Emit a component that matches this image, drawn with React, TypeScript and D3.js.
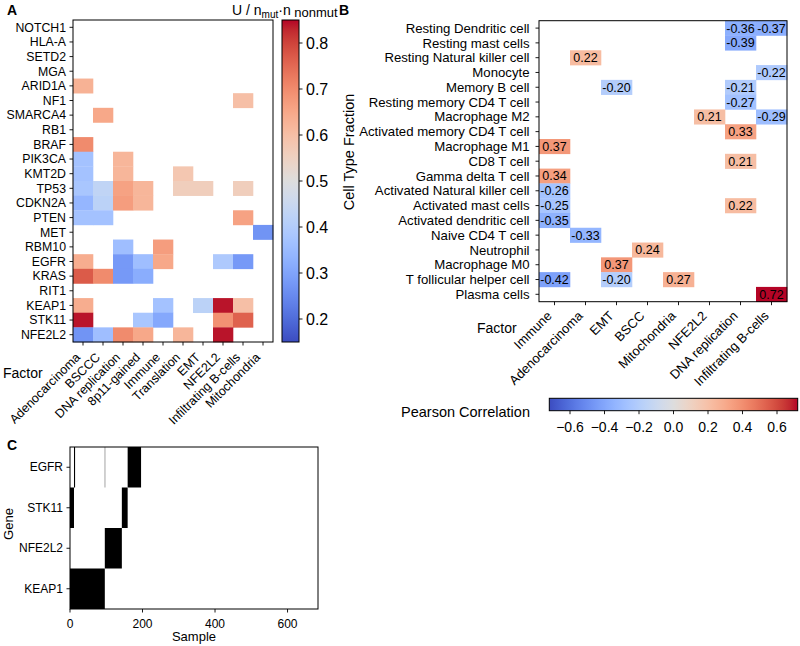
import React from "react";
import * as d3 from "d3";

// ---------------- Data ----------------
const genesA = ["NOTCH1","HLA-A","SETD2","MGA","ARID1A","NF1","SMARCA4","RB1","BRAF","PIK3CA","KMT2D","TP53","CDKN2A","PTEN","MET","RBM10","EGFR","KRAS","RIT1","KEAP1","STK11","NFE2L2"];
const factorsA = ["Adenocarcinoma","BSCCC","DNA replication","8p11-gained","Immune","Translation","EMT","NFE2L2","Infiltrating B-cells","Mitochondria"];
const cellsA: [string, string, number][] = [
  ["ARID1A","Adenocarcinoma",0.63],
  ["NF1","Infiltrating B-cells",0.60],
  ["SMARCA4","BSCCC",0.65],
  ["BRAF","Adenocarcinoma",0.70],
  ["PIK3CA","Adenocarcinoma",0.37],
  ["PIK3CA","DNA replication",0.62],
  ["KMT2D","Adenocarcinoma",0.37],
  ["KMT2D","DNA replication",0.62],
  ["KMT2D","Translation",0.58],
  ["TP53","Adenocarcinoma",0.38],
  ["TP53","BSCCC",0.43],
  ["TP53","DNA replication",0.66],
  ["TP53","8p11-gained",0.62],
  ["TP53","Translation",0.56],
  ["TP53","EMT",0.56],
  ["TP53","Infiltrating B-cells",0.56],
  ["CDKN2A","Adenocarcinoma",0.34],
  ["CDKN2A","BSCCC",0.42],
  ["CDKN2A","DNA replication",0.67],
  ["CDKN2A","8p11-gained",0.62],
  ["PTEN","Adenocarcinoma",0.37],
  ["PTEN","BSCCC",0.37],
  ["PTEN","Infiltrating B-cells",0.66],
  ["MET","Mitochondria",0.27],
  ["RBM10","DNA replication",0.36],
  ["RBM10","Immune",0.67],
  ["EGFR","Adenocarcinoma",0.64],
  ["EGFR","DNA replication",0.28],
  ["EGFR","8p11-gained",0.36],
  ["EGFR","Immune",0.65],
  ["EGFR","NFE2L2",0.39],
  ["EGFR","Infiltrating B-cells",0.28],
  ["KRAS","Adenocarcinoma",0.77],
  ["KRAS","BSCCC",0.70],
  ["KRAS","DNA replication",0.28],
  ["KRAS","8p11-gained",0.32],
  ["KEAP1","Adenocarcinoma",0.64],
  ["KEAP1","Immune",0.37],
  ["KEAP1","EMT",0.42],
  ["KEAP1","NFE2L2",0.84],
  ["KEAP1","Infiltrating B-cells",0.60],
  ["STK11","Adenocarcinoma",0.84],
  ["STK11","8p11-gained",0.38],
  ["STK11","Immune",0.31],
  ["STK11","NFE2L2",0.69],
  ["STK11","Infiltrating B-cells",0.76],
  ["NFE2L2","Adenocarcinoma",0.27],
  ["NFE2L2","BSCCC",0.36],
  ["NFE2L2","DNA replication",0.70],
  ["NFE2L2","8p11-gained",0.65],
  ["NFE2L2","Translation",0.62],
  ["NFE2L2","NFE2L2",0.84],
];
const cbarDomainA: [number, number] = [0.15, 0.85];
const cbarTicksA = [0.2, 0.3, 0.4, 0.5, 0.6, 0.7, 0.8];

const cellTypesB = ["Resting Dendritic cell","Resting mast cells","Resting Natural killer cell","Monocyte","Memory B cell","Resting memory CD4 T cell","Macrophage M2","Activated memory CD4 T cell","Macrophage M1","CD8 T cell","Gamma delta T cell","Activated Natural killer cell","Activated mast cells","Activated dendritic cell","Naive CD4 T cell","Neutrophil","Macrophage M0","T follicular helper cell","Plasma cells"];
const factorsB = ["Immune","Adenocarcinoma","EMT","BSCC","Mitochondria","NFE2L2","DNA replication","Infiltrating B-cells"];
const cellsB: [string, string, number][] = [
  ["Resting Dendritic cell","DNA replication",-0.36],
  ["Resting Dendritic cell","Infiltrating B-cells",-0.37],
  ["Resting mast cells","DNA replication",-0.39],
  ["Resting Natural killer cell","Adenocarcinoma",0.22],
  ["Monocyte","Infiltrating B-cells",-0.22],
  ["Memory B cell","EMT",-0.20],
  ["Memory B cell","DNA replication",-0.21],
  ["Resting memory CD4 T cell","DNA replication",-0.27],
  ["Macrophage M2","NFE2L2",0.21],
  ["Macrophage M2","Infiltrating B-cells",-0.29],
  ["Activated memory CD4 T cell","DNA replication",0.33],
  ["Macrophage M1","Immune",0.37],
  ["CD8 T cell","DNA replication",0.21],
  ["Gamma delta T cell","Immune",0.34],
  ["Activated Natural killer cell","Immune",-0.26],
  ["Activated mast cells","Immune",-0.25],
  ["Activated mast cells","DNA replication",0.22],
  ["Activated dendritic cell","Immune",-0.35],
  ["Naive CD4 T cell","Adenocarcinoma",-0.33],
  ["Neutrophil","BSCC",0.24],
  ["Macrophage M0","EMT",0.37],
  ["T follicular helper cell","Immune",-0.42],
  ["T follicular helper cell","EMT",-0.20],
  ["T follicular helper cell","Mitochondria",0.27],
  ["Plasma cells","Infiltrating B-cells",0.72],
];
const cbarDomainB: [number, number] = [-0.72, 0.72];
const cbarTicksB = [-0.6, -0.4, -0.2, 0.0, 0.2, 0.4, 0.6];

const genesC = ["EGFR","STK11","NFE2L2","KEAP1"];
const mutSegmentsC: [string, number, number][] = [
  ["KEAP1", 0, 96],
  ["NFE2L2", 96, 143],
  ["STK11", 0, 11],
  ["STK11", 143, 159],
  ["EGFR", 11, 14],
  ["EGFR", 96, 97],
  ["EGFR", 159, 196],
];
const nSamplesC = 684;
const ticksC = [0, 200, 400, 600];

// ---------------- Colormap (coolwarm) ----------------
const COOLWARM: [number, number, number][] = [
  [59,76,192],[68,90,204],[77,104,215],[87,117,225],[98,130,234],[108,142,241],[119,154,247],[130,165,251],
  [141,176,254],[152,185,255],[163,194,255],[174,201,253],[184,208,249],[194,213,244],[204,217,238],[213,219,230],
  [221,221,221],[229,216,209],[236,211,197],[241,204,185],[245,196,173],[247,187,160],[247,177,148],[247,166,135],
  [244,154,123],[241,141,111],[236,127,99],[229,112,88],[222,96,77],[213,80,66],[203,62,56],[192,40,47],[180,4,38],
];
const ramp = d3
  .scaleLinear<string>()
  .domain(COOLWARM.map((_, i) => i / (COOLWARM.length - 1)))
  .range(COOLWARM.map((c) => `rgb(${c[0]},${c[1]},${c[2]})`))
  .interpolate(d3.interpolateRgb)
  .clamp(true);
const colorFor = (dom: [number, number]) => (v: number) => ramp((v - dom[0]) / (dom[1] - dom[0]));

const FONT = "'Liberation Sans', Arial, Helvetica, sans-serif";

export default function App() {
  // Panel A geometry
  const A = { x0: 73, x1: 273, y0: 20, y1: 342 };
  const ax = d3.scaleBand().domain(factorsA).range([A.x0, A.x1]);
  const ay = d3.scaleBand().domain(genesA).range([A.y0, A.y1]);
  const colA = colorFor(cbarDomainA);
  const cbA = { x: 282, w: 17, y0: 20, y1: 342 };
  const cbAy = d3.scaleLinear().domain(cbarDomainA).range([cbA.y1, cbA.y0]);

  // Panel B geometry
  const B = { x0: 539, x1: 787, y0: 20.7, y1: 301.7 };
  const bx = d3.scaleBand().domain(factorsB).range([B.x0, B.x1]);
  const by = d3.scaleBand().domain(cellTypesB).range([B.y0, B.y1]);
  const colB = colorFor(cbarDomainB);
  const cbB = { x0: 549.3, x1: 797.7, y: 398.3, h: 12.4 };
  const cbBx = d3.scaleLinear().domain(cbarDomainB).range([cbB.x0, cbB.x1]);

  // Panel C geometry
  const C = { x0: 70, x1: 318, y0: 447, y1: 609 };
  const cx = d3.scaleLinear().domain([0, nSamplesC]).range([C.x0, C.x1]);
  const cy = d3.scaleBand().domain(genesC).range([C.y0, C.y1]);

  const stops = d3.range(0, 1.0001, 1 / 64);
  const fmt = d3.format(".1f");

  return (
    <svg width={800} height={646} style={{ position: "absolute", left: 0, top: 0, background: "#fff" }} fontFamily={FONT}>
      <defs>
        <linearGradient id="gradA" x1="0" y1="1" x2="0" y2="0">
          {stops.map((t, i) => (
            <stop key={i} offset={t} stopColor={ramp(t)} />
          ))}
        </linearGradient>
        <linearGradient id="gradB" x1="0" y1="0" x2="1" y2="0">
          {stops.map((t, i) => (
            <stop key={i} offset={t} stopColor={ramp(t)} />
          ))}
        </linearGradient>
      </defs>
      <rect x={0} y={0} width={800} height={646} fill="#fff" />

      {/* ---------- Panel A ---------- */}
      <text x={7} y={15} fontSize={14} fontWeight="bold">A</text>
      {cellsA.map(([g, f, v], i) => (
        <rect key={i} x={ax(f)!} y={ay(g)!} width={ax.bandwidth() + 0.3} height={ay.bandwidth() + 0.3} fill={colA(v)} />
      ))}
      <rect x={A.x0} y={A.y0} width={A.x1 - A.x0} height={A.y1 - A.y0} fill="none" stroke="#000" strokeWidth={1} />
      {genesA.map((g) => {
        const y = ay(g)! + ay.bandwidth() / 2;
        return (
          <g key={g}>
            <line x1={A.x0 - 3.5} x2={A.x0} y1={y} y2={y} stroke="#000" strokeWidth={0.9} />
            <text x={A.x0 - 7} y={y} dy="0.35em" textAnchor="end" fontSize={12.3}>{g}</text>
          </g>
        );
      })}
      {factorsA.map((f) => {
        const x = ax(f)! + ax.bandwidth() / 2;
        return (
          <g key={f}>
            <line x1={x} x2={x} y1={A.y1} y2={A.y1 + 3.5} stroke="#000" strokeWidth={0.9} />
            <text transform={`translate(${x - 2},${A.y1 + 16}) rotate(-45)`} textAnchor="end" fontSize={12.5}>{f}</text>
          </g>
        );
      })}
      <text x={3} y={378} fontSize={14}>Factor</text>

      {/* colorbar A */}
      <rect x={cbA.x} y={cbA.y0} width={cbA.w} height={cbA.y1 - cbA.y0} fill="url(#gradA)" stroke="#000" strokeWidth={1} />
      {cbarTicksA.map((t) => (
        <g key={t}>
          <line x1={cbA.x + cbA.w} x2={cbA.x + cbA.w + 3.5} y1={cbAy(t)} y2={cbAy(t)} stroke="#000" strokeWidth={0.9} />
          <text x={cbA.x + cbA.w + 7} y={cbAy(t)} dy="0.36em" fontSize={16}>{fmt(t)}</text>
        </g>
      ))}
      <text x={232} y={15} fontSize={14}>
        U / n
        <tspan fontSize={10} dy={3}>mut</tspan>
        <tspan fontSize={14} dy={-3}>·n</tspan>
        <tspan fontSize={13} dy={1.5}>{"\u00A0nonmut"}</tspan>
      </text>

      {/* ---------- Panel B ---------- */}
      <text x={339} y={15} fontSize={14} fontWeight="bold">B</text>
      {cellsB.map(([c, f, v], i) => {
        const x = bx(f)!;
        const y = by(c)!;
        return (
          <g key={i}>
            <rect x={x} y={y} width={bx.bandwidth() + 0.3} height={by.bandwidth() + 0.3} fill={colB(v)} />
            <text x={x + bx.bandwidth() / 2} y={y + by.bandwidth() / 2} dy="0.36em" textAnchor="middle" fontSize={12.5}>{v.toFixed(2)}</text>
          </g>
        );
      })}
      <rect x={B.x0} y={B.y0} width={B.x1 - B.x0} height={B.y1 - B.y0} fill="none" stroke="#000" strokeWidth={1} />
      {cellTypesB.map((c) => {
        const y = by(c)! + by.bandwidth() / 2;
        return (
          <g key={c}>
            <line x1={B.x0 - 3.5} x2={B.x0} y1={y} y2={y} stroke="#000" strokeWidth={0.9} />
            <text x={B.x0 - 9.5} y={y} dy="0.35em" textAnchor="end" fontSize={13.2}>{c}</text>
          </g>
        );
      })}
      {factorsB.map((f) => {
        const x = bx(f)! + bx.bandwidth() / 2;
        return (
          <g key={f}>
            <line x1={x} x2={x} y1={B.y1} y2={B.y1 + 3.5} stroke="#000" strokeWidth={0.9} />
            <text transform={`translate(${x - 2},${B.y1 + 15}) rotate(-45)`} textAnchor="end" fontSize={13}>{f}</text>
          </g>
        );
      })}
      <text x={477} y={333} fontSize={14}>Factor</text>
      <text transform="translate(354,152) rotate(-90)" textAnchor="middle" fontSize={14.5}>Cell Type Fraction</text>

      {/* colorbar B */}
      <rect x={cbB.x0} y={cbB.y} width={cbB.x1 - cbB.x0} height={cbB.h} fill="url(#gradB)" stroke="#000" strokeWidth={1} />
      {cbarTicksB.map((t) => (
        <g key={t}>
          <line x1={cbBx(t)} x2={cbBx(t)} y1={cbB.y + cbB.h} y2={cbB.y + cbB.h + 3.5} stroke="#000" strokeWidth={0.9} />
          <text x={cbBx(t)} y={432} textAnchor="middle" fontSize={14}>{fmt(t)}</text>
        </g>
      ))}
      <text x={401} y={417} fontSize={14.5}>Pearson Correlation</text>

      {/* ---------- Panel C ---------- */}
      <text x={7} y={450} fontSize={14} fontWeight="bold">C</text>
      {mutSegmentsC.map(([g, s, e], i) => (
        <rect key={i} x={cx(s)} y={cy(g)!} width={cx(e) - cx(s)} height={cy.bandwidth()} fill="#000" />
      ))}
      <rect x={C.x0} y={C.y0} width={C.x1 - C.x0} height={C.y1 - C.y0} fill="none" stroke="#000" strokeWidth={1} />
      {genesC.map((g) => {
        const y = cy(g)! + cy.bandwidth() / 2;
        return (
          <g key={g}>
            <line x1={C.x0 - 3.5} x2={C.x0} y1={y} y2={y} stroke="#000" strokeWidth={0.9} />
            <text x={C.x0 - 7} y={y} dy="0.35em" textAnchor="end" fontSize={12}>{g}</text>
          </g>
        );
      })}
      {ticksC.map((t) => (
        <g key={t}>
          <line x1={cx(t)} x2={cx(t)} y1={C.y1} y2={C.y1 + 3.5} stroke="#000" strokeWidth={0.9} />
          <text x={cx(t)} y={627.5} textAnchor="middle" fontSize={12}>{t}</text>
        </g>
      ))}
      <text x={194} y={641} textAnchor="middle" fontSize={13}>Sample</text>
      <text transform="translate(13,524) rotate(-90)" textAnchor="middle" fontSize={13}>Gene</text>
    </svg>
  );
}
